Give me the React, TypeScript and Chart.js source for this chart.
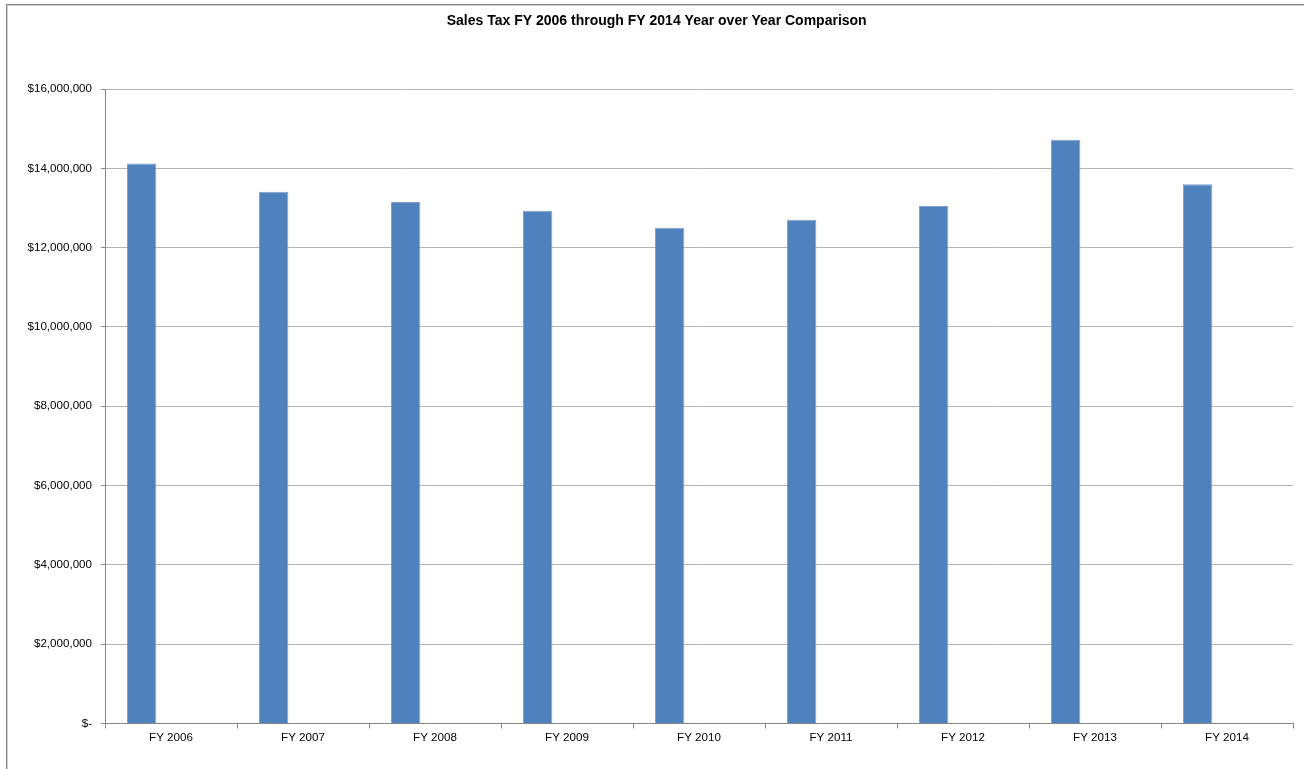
import React, { useEffect, useRef } from "react";
import { Chart, registerables } from "chart.js";

Chart.register(...registerables);

// Fiscal years on the category axis
const fiscalYears = [
  "FY 2006",
  "FY 2007",
  "FY 2008",
  "FY 2009",
  "FY 2010",
  "FY 2011",
  "FY 2012",
  "FY 2013",
  "FY 2014",
];

// Annual sales tax collections (USD)
const salesTax = [
  14120000, 13410000, 13150000, 12930000, 12500000, 12700000, 13050000,
  14720000, 13600000,
];

// Two unused series slots that keep each bar at the left of its category
const reservedSlotA: (number | null)[] = fiscalYears.map(() => null);
const reservedSlotB: (number | null)[] = fiscalYears.map(() => null);

// Value axis range
const axisMin = 0;
const axisMax = 16000000;
const axisStep = 2000000;

const chartTitle = "Sales Tax FY 2006 through FY 2014 Year over Year Comparison";

const FONT = "'Liberation Sans', Arial, sans-serif";

function formatDollars(v: number): string {
  if (v === 0) return "$-";
  return "$" + v.toLocaleString("en-US");
}

export default function App() {
  const canvasRef = useRef<HTMLCanvasElement | null>(null);

  useEffect(() => {
    const canvas = canvasRef.current;
    if (!canvas) return;
    const chart = new Chart(canvas, {
      type: "bar",
      data: {
        labels: fiscalYears,
        datasets: [
          {
            label: "Sales Tax",
            data: salesTax,
            backgroundColor: "#4F81BD",
            borderColor: "#7FA2D0",
            borderWidth: 1,
            categoryPercentage: 0.667,
            barPercentage: 1.0,
          },
          {
            label: "",
            data: reservedSlotA,
            backgroundColor: "#C0504D",
            categoryPercentage: 0.667,
            barPercentage: 1.0,
          },
          {
            label: "",
            data: reservedSlotB,
            backgroundColor: "#9BBB59",
            categoryPercentage: 0.667,
            barPercentage: 1.0,
          },
        ],
      },
      options: {
        responsive: false,
        animation: false,
        layout: {
          padding: { left: 20.4, right: 11, top: 0, bottom: 0 },
        },
        plugins: {
          legend: { display: false },
          tooltip: { enabled: false },
          title: {
            display: true,
            text: chartTitle,
            color: "#000000",
            font: { family: FONT, size: 14, weight: "bold", lineHeight: 1.2 },
            padding: { top: 12.6, bottom: 59.6 },
          },
        },
        scales: {
          x: {
            type: "category",
            offset: true,
            grid: {
              display: true,
              drawOnChartArea: false,
              offset: true,
              color: "#868686",
              tickLength: 5,
            },
            border: { color: "#868686", width: 1 },
            ticks: {
              color: "#000000",
              font: { family: FONT, size: 11.6 },
              padding: 2,
              maxRotation: 0,
            },
            afterFit: (scale: any) => {
              scale.height = 45.5;
            },
          },
          y: {
            min: axisMin,
            max: axisMax,
            grid: {
              color: "#B3B3B3",
              tickColor: "#868686",
              tickLength: 4,
            },
            border: { color: "#868686", width: 1 },
            ticks: {
              stepSize: axisStep,
              color: "#000000",
              font: { family: FONT, size: 11.6 },
              padding: 9,
              callback: (value: any) => formatDollars(Number(value)),
            },
            afterFit: (scale: any) => {
              scale.width = 84.6;
            },
          },
        },
      },
    });
    return () => chart.destroy();
  }, []);

  return (
    <>
      <div
        style={{
          position: "fixed",
          left: 6,
          top: 4,
          width: 1320,
          height: 800,
          borderLeft: "1px solid #858585",
          borderTop: "1px solid #858585",
          boxShadow: "inset 1px 1px 0 #CFCFCF",
          background: "#ffffff",
        }}
      />
      <canvas
        ref={canvasRef}
        width={1304}
        height={769}
        style={{ position: "fixed", left: 0, top: 0, width: 1304, height: 769 }}
      />
    </>
  );
}
